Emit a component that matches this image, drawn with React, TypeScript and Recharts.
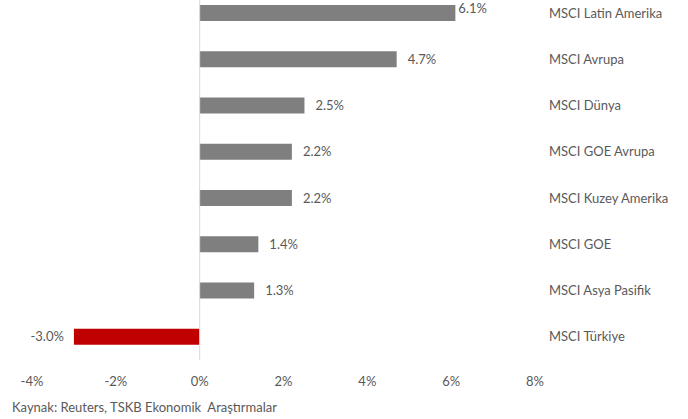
import { BarChart, Bar, XAxis, YAxis, ReferenceLine, LabelList, Cell } from 'recharts';

const categories = [
  'MSCI Latin Amerika',
  'MSCI Avrupa',
  'MSCI Dünya',
  'MSCI GOE Avrupa',
  'MSCI Kuzey Amerika',
  'MSCI GOE',
  'MSCI Asya Pasifik',
  'MSCI Türkiye',
];
const returns = [6.1, 4.7, 2.5, 2.2, 2.2, 1.4, 1.3, -3.0];
const xTicks = [-4, -2, 0, 2, 4, 6, 8];
const source = 'Kaynak: Reuters, TSKB Ekonomik  Araştırmalar';

const FONT = 'Lato, "Open Sans", sans-serif';
const TEXT = '#595959';

const data = categories.map((name, i) => ({ name, value: returns[i] }));

function ValueLabel(props: any) {
  const { x, y, width, height, value, index } = props;
  const left = Math.min(x, x + width);
  const right = Math.max(x, x + width);
  const cy = y + height / 2;
  const neg = value < 0;
  // first label sits a bit higher and closer to the bar end in the original
  const tx = neg ? left - 10 : index === 0 ? right + 3 : right + 11;
  const ty = index === 0 ? cy - 5 : cy;
  return (
    <text
      x={tx}
      y={ty}
      dy="0.35em"
      textAnchor={neg ? 'end' : 'start'}
      fill={TEXT}
      fontSize={13}
      fontFamily={FONT}
    >
      {value.toFixed(1)}%
    </text>
  );
}

export default function App() {
  return (
    <div style={{ position: 'relative', width: 688, height: 419, overflow: 'hidden', background: '#fff' }}>
      <style>{'body{margin:0}'}</style>
      <div style={{ position: 'absolute', top: -10, left: 0 }}>
        <BarChart
          width={688}
          height={429}
          data={data}
          layout="vertical"
          margin={{ top: 0, right: 0, bottom: 0, left: 32 }}
          barSize={16}
        >
          <XAxis
            type="number"
            domain={[-4, 8]}
            ticks={xTicks}
            tickFormatter={(v) => `${v}%`}
            axisLine={false}
            tickLine={false}
            tickSize={0}
            tickMargin={17}
            height={59}
            tick={{ fill: TEXT, fontSize: 13, fontFamily: FONT }}
            interval={0}
          />
          <YAxis
            type="category"
            dataKey="name"
            orientation="right"
            width={153}
            axisLine={false}
            tickLine={false}
            tickSize={0}
            tickMargin={14}
            tick={{ fill: TEXT, fontSize: 13, fontFamily: FONT, textAnchor: 'start' }}
            interval={0}
          />
          <ReferenceLine x={0} stroke="#d9d9d9" strokeWidth={1} />
          <Bar dataKey="value" isAnimationActive={false}>
            {data.map((d) => (
              <Cell key={d.name} fill={d.value < 0 ? '#c00000' : '#7f7f7f'} />
            ))}
            <LabelList dataKey="value" content={ValueLabel} />
          </Bar>
        </BarChart>
      </div>
      <div
        style={{
          position: 'absolute',
          left: 12,
          top: 399,
          fontFamily: FONT,
          fontSize: 13,
          color: TEXT,
          whiteSpace: 'pre',
        }}
      >
        {source}
      </div>
    </div>
  );
}
